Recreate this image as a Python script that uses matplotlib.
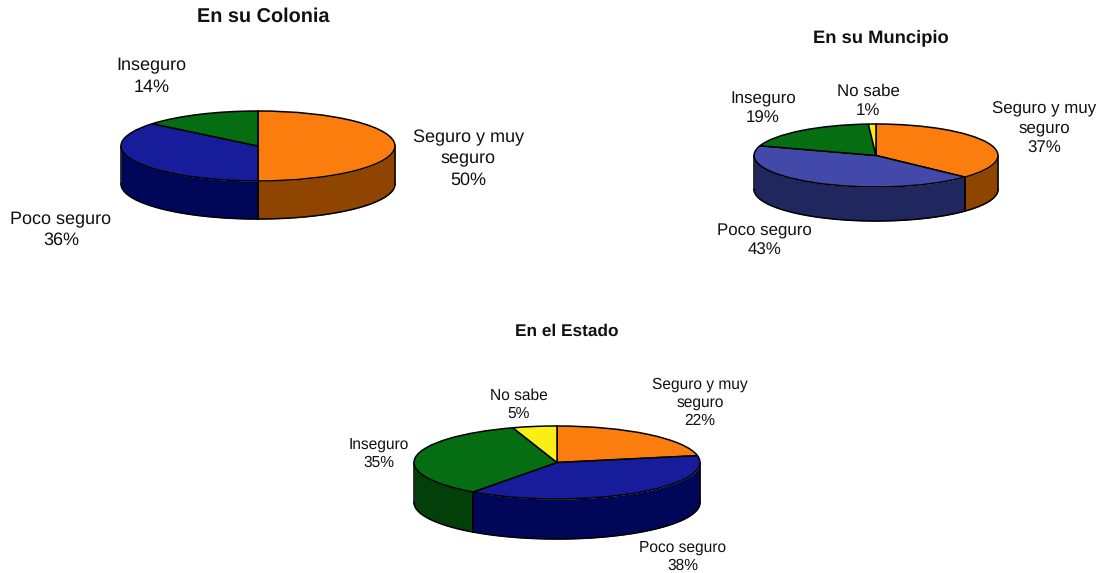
import numpy as np
from matplotlib import pyplot as plt
from matplotlib.patches import Wedge

plt.rcParams['text.hinting'] = 'no_hinting'

W, H = 1099, 573
FONT = 'Liberation Sans'

colonia_labels = ['Seguro y muy\nseguro', 'Poco seguro', 'Inseguro']
colonia_values = [50, 36, 14]
municipio_labels = ['Seguro y muy\nseguro', 'Poco seguro', 'Inseguro', 'No sabe']
municipio_values = [37, 43, 19, 1]
estado_labels = ['Seguro y muy\nseguro', 'Poco seguro', 'Inseguro', 'No sabe']
estado_values = [22, 38, 35, 5]

ORANGE = ('#fb7d0e', '#8f4400')
BLUE = ('#171c9b', '#000758')
SOFT_BLUE = ('#4349a8', '#20265e')
GREEN = ('#056e12', '#033f08')
YELLOW = ('#f9ee16', '#8a8400')


def pie_3d(fig, box, values, colors):
    """Draws a tilted pie. box is center x, center y, rx, ry, depth in pixels."""
    cx, cy, rx, ry, depth = box
    ax = fig.add_axes([(cx - rx) / W, 1 - (cy + ry + depth) / H,
                       2 * rx / W, (2 * ry + depth) / H])
    d = depth / ry
    ax.set_xlim(-1, 1)
    ax.set_ylim(-1 - d, 1)
    ax.axis('off')

    edges = 90 - 3.6 * np.cumsum([0] + values)
    for i, value in enumerate(values):
        start, end = edges[i + 1], edges[i]
        # only the part of the slice facing the viewer gets a side wall
        lo, hi = max(start, -180), min(end, 0)
        if hi > lo:
            t = np.radians(np.linspace(lo, hi, 80))
            ax.fill_between(np.cos(t), np.sin(t), np.sin(t) - d, color=colors[i][1],
                            lw=0, clip_on=False, zorder=1)
            ax.plot(np.cos(t), np.sin(t) - d, color='black', lw=1.1, clip_on=False, zorder=2)
            for a in (lo, hi):
                x, y = np.cos(np.radians(a)), np.sin(np.radians(a))
                ax.plot([x, x], [y, y - d], color='black', lw=1.1, clip_on=False, zorder=2)
        ax.add_patch(Wedge((0, 0), 1, start, end, facecolor=colors[i][0],
                           edgecolor='black', lw=1.1, clip_on=False, zorder=3))


def put_labels(fig, labels, values, spots, size, spacing):
    for label, value, (x, y) in zip(labels, values, spots):
        fig.text(x / W, 1 - y / H, f'{label}\n{value}%', ha='center', va='center',
                 family=FONT, fontsize=size, color='#111111', linespacing=spacing)


fig = plt.figure(figsize=(W / 100, H / 100), dpi=100, facecolor='white')

pie_3d(fig, (258, 146, 137, 35, 38), colonia_values, [ORANGE, BLUE, GREEN])
pie_3d(fig, (876, 155.5, 122, 31.5, 34), municipio_values, [ORANGE, SOFT_BLUE, GREEN, YELLOW])
pie_3d(fig, (557, 462.5, 143, 36.5, 40), estado_values, [ORANGE, BLUE, GREEN, YELLOW])

put_labels(fig, colonia_labels, colonia_values, [(468.5, 159), (61, 230), (151.5, 76.5)], 13, 1.32)
put_labels(fig, municipio_labels, municipio_values,
           [(1044.5, 128.5), (764, 240.5), (763, 108.5), (868, 101)], 12.2, 1.3)
put_labels(fig, estado_labels, estado_values,
           [(700, 403), (683, 557), (379, 454), (519, 405)], 11.2, 1.28)

fig.text(263.5 / W, 1 - 17 / H, 'En su Colonia', ha='center', va='center',
         family=FONT, fontsize=14.3, fontweight='bold', color='#111111')
fig.text(880.5 / W, 1 - 38 / H, 'En su Muncipio', ha='center', va='center',
         family=FONT, fontsize=13.2, fontweight='bold', color='#111111')
fig.text(567 / W, 1 - 331 / H, 'En el Estado', ha='center', va='center',
         family=FONT, fontsize=12.4, fontweight='bold', color='#111111')

fig.savefig('out.png', dpi=100)
